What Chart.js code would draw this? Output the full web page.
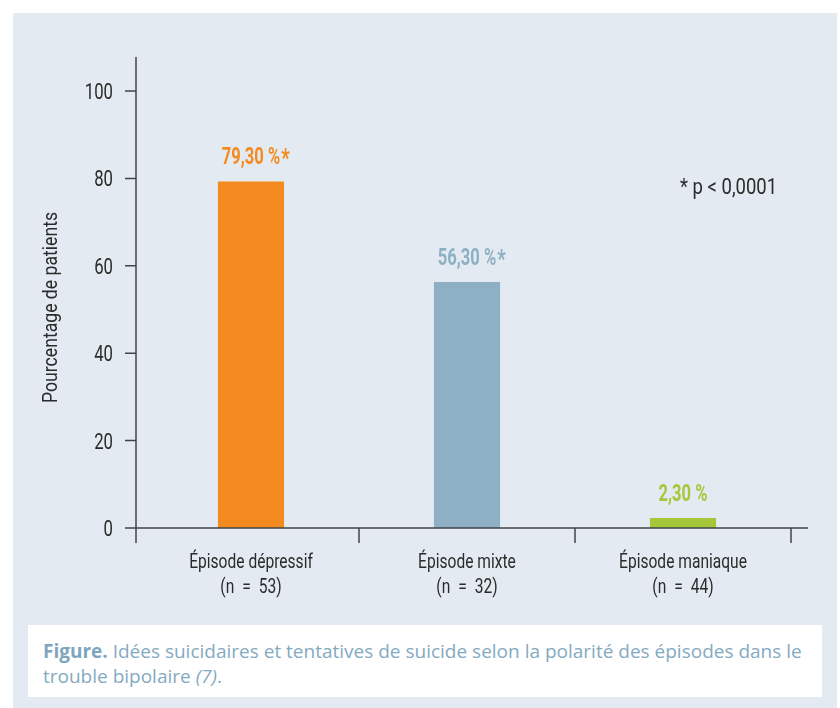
<!DOCTYPE html>
<html lang="fr">
<head>
<meta charset="utf-8">
<title>Polarité des épisodes</title>
<script src="https://cdn.jsdelivr.net/npm/chart.js@4.4.1/dist/chart.umd.min.js"></script>
<style>
  html, body { margin: 0; padding: 0; background: #ffffff; }
  #wrap { position: relative; width: 840px; height: 708px; overflow: hidden; }
  #panel { position: absolute; left: 13px; top: 13px; width: 824px; height: 700px; background: #e3eaf1; }
  #caption {
    position: absolute; left: 28px; top: 625px; width: 794px; height: 72px;
    background: #ffffff; box-sizing: border-box; padding: 14px 20px 0 15px;
    font-family: "Open Sans", "Noto Sans", sans-serif; font-size: 19px; line-height: 25px;
    color: #84aac2;
  }
  #caption b { font-weight: 700; color: #7ea5be; }
  #chart { position: absolute; left: 0; top: 0; }
</style>
</head>
<body>
<div id="wrap">
  <div id="panel"></div>
  <canvas id="chart" width="840" height="708"></canvas>
  <div id="caption"><b>Figure.</b> Idées suicidaires et tentatives de suicide selon la polarité des épisodes dans le trouble bipolaire <i>(7)</i>.</div>
</div>
<script>
const chartEl = document.getElementById("chart");

// Categories (two-line labels)
const categories = [
  ["Épisode dépressif", "(n = 53)"],
  ["Épisode mixte", "(n = 32)"],
  ["Épisode maniaque", "(n = 44)"],
];
// Percentage of patients
const values = [79.3, 56.3, 2.3];
// Significance marks
const signif = ["*", "*", ""];
// Y tick values
const yTicks = [0, 20, 40, 60, 80, 100];

const barColors = ["#f38b20", "#8db0c4", "#a5c83a"];
const axisColor = "#444444";
const textColor = "#2b2b2b";
const fam = "Roboto, 'Liberation Sans', sans-serif";

// no condensed face installed: squeeze the text horizontally
function narrowText(ctx, text, x, y, o) {
  ctx.save();
  ctx.translate(x, y);
  if (o.rotate) ctx.rotate(o.rotate);
  ctx.scale(o.sx, 1);
  ctx.font = o.font;
  ctx.fillStyle = o.color || textColor;
  ctx.textAlign = o.align || "left";
  ctx.textBaseline = o.baseline || "alphabetic";
  ctx.fillText(text, 0, 0);
  ctx.restore();
}

// Axes, labels and note
const axisPlugin = {
  id: "axisPlugin",
  afterDraw(chart) {
    const { ctx, chartArea } = chart;
    const xs = chart.scales.x;
    const ys = chart.scales.y;
    const y0 = ys.getPixelForValue(0);
    const axisX = chartArea.left - 7;

    ctx.save();
    ctx.strokeStyle = axisColor;
    ctx.lineWidth = 1.5;
    ctx.beginPath();
    // y axis line
    ctx.moveTo(axisX, chartArea.top - 34);
    ctx.lineTo(axisX, y0 + 15);
    // y ticks
    ys.ticks.forEach(t => {
      const py = ys.getPixelForValue(t.value);
      ctx.moveTo(axisX - 11, py);
      ctx.lineTo(axisX, py);
    });
    // x axis line
    ctx.moveTo(axisX - 11, y0);
    ctx.lineTo(chartArea.right + 17, y0);
    // x ticks between categories
    for (let i = 0; i < categories.length; i++) {
      const px = i < categories.length - 1
        ? (xs.getPixelForValue(i) + xs.getPixelForValue(i + 1)) / 2
        : chartArea.right;
      ctx.moveTo(px, y0);
      ctx.lineTo(px, y0 + 15);
    }
    ctx.stroke();
    ctx.restore();

    // y tick labels
    ys.ticks.forEach(t => {
      narrowText(ctx, String(t.value), axisX - 23, ys.getPixelForValue(t.value) + 8,
        { sx: 0.76, font: "22px " + fam, align: "right" });
    });

    // y title
    const midY = (chartArea.top + chartArea.bottom) / 2;
    narrowText(ctx, "Pourcentage de patients", 57, midY - 2,
      { sx: 0.86, font: "20.5px " + fam, align: "center", rotate: -Math.PI / 2 });

    // category labels
    categories.forEach((lines, i) => {
      const px = xs.getPixelForValue(i);
      lines.forEach((line, j) => {
        const txt = j === 1 ? line.replace(/ = /, "\u2002=\u2002") : line;
        narrowText(ctx, txt, px, y0 + 40 + j * 25,
          { sx: 0.76, font: "20.5px " + fam, align: "center" });
      });
    });

    // value labels
    const meta = chart.getDatasetMeta(0);
    const vFont = "bold 23px " + fam;
    const aFont = "bold 26px " + fam;
    const vsx = 0.72;
    meta.data.forEach((bar, i) => {
      const txt = values[i].toFixed(2).replace(".", ",") + " %";
      narrowText(ctx, txt, bar.x, bar.y - 17,
        { sx: vsx, font: vFont, align: "center", color: barColors[i] });
      if (signif[i]) {
        ctx.font = vFont;
        const w = ctx.measureText(txt).width * vsx;
        narrowText(ctx, signif[i], bar.x + w / 2 + 1, bar.y - 14,
          { sx: vsx, font: aFont, color: barColors[i] });
      }
    });

    // significance note
    narrowText(ctx, "* p < 0,0001", 680, 194, { sx: 0.86, font: "21.5px " + fam });
  },
};

new Chart(chartEl, {
  type: "bar",
  plugins: [axisPlugin],
  data: {
    labels: categories,
    datasets: [
      {
        data: values,
        backgroundColor: barColors,
        borderWidth: 0,
        barPercentage: 0.306,
        categoryPercentage: 1,
      },
    ],
  },
  options: {
    responsive: false,
    animation: false,
    layout: { padding: { top: 91, right: 49, bottom: 0, left: 0 } },
    plugins: {
      legend: { display: false },
      tooltip: { enabled: false },
    },
    scales: {
      x: {
        offset: true,
        grid: { display: false },
        border: { display: false },
        ticks: { display: false },
        afterFit: s => { s.height = 180; },
      },
      y: {
        min: 0,
        max: 100,
        afterBuildTicks: s => { s.ticks = yTicks.map(v => ({ value: v })); },
        grid: { display: false },
        border: { display: false },
        ticks: { display: false },
        afterFit: s => { s.width = 143; },
      },
    },
  },
});
</script>
</body>
</html>
